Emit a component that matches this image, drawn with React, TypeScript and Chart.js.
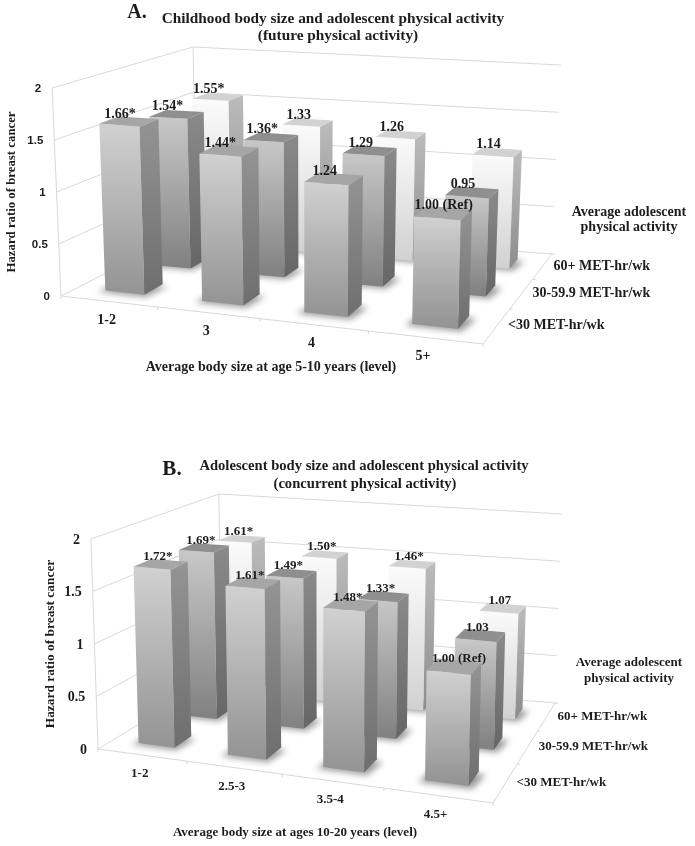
import React, { useEffect, useRef } from "react";
import { Chart, registerables } from "chart.js";

Chart.register(...registerables);

const seriesNames = ["<30 MET-hr/wk", "30-59.9 MET-hr/wk", "60+ MET-hr/wk"];
const yTicks = [0, 0.5, 1, 1.5, 2];

const categoriesA = ["1-2", "3", "4", "5+"];
const lowA = [1.66, 1.44, 1.24, 1.0];
const midA = [1.54, 1.36, 1.29, 0.95];
const highA = [1.55, 1.33, 1.26, 1.14];
const lowLabelsA = ["1.66*", "1.44*", "1.24", "1.00 (Ref)"];
const midLabelsA = ["1.54*", "1.36*", "1.29", "0.95"];
const highLabelsA = ["1.55*", "1.33", "1.26", "1.14"];

const categoriesB = ["1-2", "2.5-3", "3.5-4", "4.5+"];
const lowB = [1.72, 1.61, 1.48, 1.0];
const midB = [1.69, 1.49, 1.33, 1.03];
const highB = [1.61, 1.5, 1.46, 1.07];
const lowLabelsB = ["1.72*", "1.61*", "1.48*", "1.00 (Ref)"];
const midLabelsB = ["1.69*", "1.49*", "1.33*", "1.03"];
const highLabelsB = ["1.61*", "1.50*", "1.46*", "1.07"];

type Pt = [number, number];
const FONT = '"Liberation Serif"';
const TEXT = "#1c1c1c";
const GRID = "#d8d8d8";

const panelA = {
  top: 0,
  height: 423,
  letter: { text: "A.", x: 137, y: 13, size: 20 },
  titles: [
    { text: "Childhood body size and adolescent physical activity", x: 333, y: 19 },
    { text: "(future physical activity)", x: 338, y: 36 },
  ],
  titleSize: 15.3,
  font: 14,
  tickFont: 'bold 11.5px "Liberation Sans"',
  labelDx: -9,
  categories: categoriesA,
  series: [lowA, midA, highA],
  labels: [lowLabelsA, midLabelsA, highLabelsA],
  floor: [[61, 296], [483, 344], [552, 254], [197, 227]] as Pt[],
  heights: [200, 222, 189, 180],
  cornerLift: 8,
  tilt: { center: 308, slope: 0.036 },
  yTitle: { text: "Hazard ratio of breast cancer", x: 12, y: 192, size: 12.8 },
  xTitle: { text: "Average body size at age 5-10 years (level)", x: 271, y: 367 },
  legendTitle: { x: 629, y1: 212, y2: 227 },
};

const panelB = {
  top: 423,
  height: 423,
  letter: { text: "B.", x: 172, y: 470, size: 21 },
  titles: [
    { text: "Adolescent body size and adolescent physical activity", x: 364, y: 466 },
    { text: "(concurrent physical activity)", x: 365, y: 484 },
  ],
  titleSize: 14.6,
  font: 13,
  tickFont: 'bold 14px "Liberation Serif"',
  labelDx: -3,
  categories: categoriesB,
  series: [lowB, midB, highB],
  labels: [lowLabelsB, midLabelsB, highLabelsB],
  floor: [[98, 749], [493, 803], [555, 703], [222, 674]] as Pt[],
  heights: [205, 228, 189, 180],
  cornerLift: 5,
  tilt: { center: 325, slope: 0.031 },
  yTitle: { text: "Hazard ratio of breast cancer", x: 51, y: 644, size: 13.4 },
  xTitle: { text: "Average body size at ages 10-20 years (level)", x: 295, y: 833 },
  legendTitle: { x: 629, y1: 663, y2: 679 },
};

const rowStyles = [
  { front: ["#d1d1d1", "#959595"], side: ["#949494", "#6e6e6e"], cap: "#a6a6a6" },
  { front: ["#c8c8c8", "#828282"], side: ["#8a8a8a", "#666666"], cap: "#8f8f8f" },
  { front: ["#fbfbfb", "#d2d2d2"], side: ["#bcbcbc", "#8c8c8c"], cap: "#d2d2d2" },
];

function homography(q: Pt[]) {
  const [[x0, y0], [x1, y1], [x2, y2], [x3, y3]] = q;
  const dx1 = x1 - x2, dx2 = x3 - x2, sx = x0 - x1 + x2 - x3;
  const dy1 = y1 - y2, dy2 = y3 - y2, sy = y0 - y1 + y2 - y3;
  const det = dx1 * dy2 - dx2 * dy1;
  const g = (sx * dy2 - dx2 * sy) / det;
  const h = (dx1 * sy - sx * dy1) / det;
  const a = x1 - x0 + g * x1, b = x3 - x0 + h * x3;
  const d = y1 - y0 + g * y1, e = y3 - y0 + h * y3;
  return (u: number, v: number): Pt => {
    const w = g * u + h * v + 1;
    return [(a * u + b * v + x0) / w, (d * u + e * v + y0) / w];
  };
}

const WARP = 0.07;

function makePlugin(panel: typeof panelA) {
  const off = panel.top;
  const floorH = homography(panel.floor.map(([x, y]) => [x, y - off] as Pt));
  const [hFL, hFR, hBR, hBL] = panel.heights;
  const P = (u0: number, v: number, z: number): Pt => {
    const u = u0 + WARP * u0 * (1 - u0);
    const f = floorH(u, v);
    const h =
      (hFL * (1 - u) + hFR * u) * (1 - v) +
      (hBL * (1 - u) + hBR * u) * v +
      panel.cornerLift * Math.pow((1 - u) * (1 - v), 8);
    const dx = (f[0] - panel.tilt.center) * panel.tilt.slope;
    return [f[0] + dx * z, f[1] - h * z];
  };
  const poly = (ctx: CanvasRenderingContext2D, pts: Pt[]) => {
    ctx.beginPath();
    pts.forEach((p, i) => (i ? ctx.lineTo(p[0], p[1]) : ctx.moveTo(p[0], p[1])));
    ctx.closePath();
  };
  const line = (ctx: CanvasRenderingContext2D, a: Pt, b: Pt) => {
    ctx.beginPath();
    ctx.moveTo(a[0], a[1]);
    ctx.lineTo(b[0], b[1]);
    ctx.stroke();
  };
  const textF = (ctx: CanvasRenderingContext2D, s: string, x: number, y: number, font: string, align: CanvasTextAlign = "center") => {
    ctx.font = font;
    ctx.fillStyle = TEXT;
    ctx.textAlign = align;
    ctx.textBaseline = "middle";
    ctx.fillText(s, x, y);
  };
  const text = (ctx: CanvasRenderingContext2D, s: string, x: number, y: number, size: number, align: CanvasTextAlign = "center") =>
    textF(ctx, s, x, y, `bold ${size}px ${FONT}`, align);

  return {
    id: "bars3d",
    afterDatasetsDraw(chart: any) {
      const ctx: CanvasRenderingContext2D = chart.ctx;
      const { chartArea: area } = chart;
      const yScale = chart.scales.y;
      const xScale = chart.scales.x;
      const zOf = (value: number) => (area.bottom - yScale.getPixelForValue(value)) / area.height;
      const uOf = (px: number) => (px - area.left) / area.width;
      const nCat = panel.categories.length;
      const nRow = panel.series.length;
      const fs = panel.font;

      ctx.save();
      // walls
      ctx.strokeStyle = GRID;
      ctx.lineWidth = 1;
      yTicks.forEach((t) => {
        const z = zOf(t);
        line(ctx, P(0, 0, z), P(0, 1, z));
        line(ctx, P(0, 1, z), P(1, 1, z));
      });
      line(ctx, P(0, 0, 0), P(0, 0, 1));
      line(ctx, P(0, 1, 0), P(0, 1, 1));
      // floor edges
      line(ctx, P(0, 0, 0), P(1, 0, 0));
      line(ctx, P(1, 0, 0), P(1, 1, 0));
      for (let i = 0; i <= nCat; i++) {
        const a = P(i / nCat, 0, 0);
        line(ctx, a, [a[0], a[1] + 3]);
      }
      for (let r = 1; r <= nRow; r++) {
        const a = P(1, r / nRow, 0);
        line(ctx, a, [a[0] + 3, a[1]]);
      }

      // floor shadows
      ctx.save();
      ctx.filter = "blur(3px)";
      ctx.fillStyle = "#9a9a9a";
      for (let r = nRow - 1; r >= 0; r--) {
        chart.getDatasetMeta(r).data.forEach((el: any) => {
          const u0 = uOf(el.x - el.width / 2), u1 = uOf(el.x + el.width / 2);
          const v0 = (r + 0.31) / nRow, v1 = (r + 0.69) / nRow;
          poly(ctx, [P(u0 - 0.012, v0 - 0.02, 0), P(u1 + 0.012, v0 - 0.02, 0), P(u1 + 0.02, v1 - 0.02, 0), P(u0, v1, 0)]);
          ctx.fill();
        });
      }
      ctx.restore();

      // bars, back row first, left to right
      for (let r = nRow - 1; r >= 0; r--) {
        const st = rowStyles[r];
        chart.getDatasetMeta(r).data.forEach((el: any) => {
          const u0 = uOf(el.x - el.width / 2), u1 = uOf(el.x + el.width / 2);
          const v0 = (r + 0.31) / nRow, v1 = (r + 0.69) / nRow;
          const z = (area.bottom - el.y) / area.height;
          const fl = P(u0, v0, 0), fr = P(u1, v0, 0), br = P(u1, v1, 0);
          const tl = P(u0, v0, z), tr = P(u1, v0, z), tb = P(u1, v1, z), tbl = P(u0, v1, z);
          const gf = ctx.createLinearGradient(0, tl[1], 0, fl[1]);
          gf.addColorStop(0, st.front[0]);
          gf.addColorStop(1, st.front[1]);
          ctx.fillStyle = gf;
          poly(ctx, [tl, tr, fr, fl]);
          ctx.fill();
          const gs = ctx.createLinearGradient(0, tb[1], 0, fr[1]);
          gs.addColorStop(0, st.side[0]);
          gs.addColorStop(1, st.side[1]);
          ctx.fillStyle = gs;
          poly(ctx, [tr, tb, br, fr]);
          ctx.fill();
          ctx.fillStyle = st.cap;
          poly(ctx, [tl, tr, tb, tbl]);
          ctx.fill();
        });
      }

      // value labels
      for (let r = nRow - 1; r >= 0; r--) {
        chart.getDatasetMeta(r).data.forEach((el: any, i: number) => {
          const u = uOf(el.x);
          const v = (r + 0.5) / nRow;
          const z = (area.bottom - el.y) / area.height;
          const c = P(u, v, z);
          const s = panel.labels[r][i];
          ctx.font = `bold ${fs}px ${FONT}`;
          const extra = s.length > 6 ? 0.33 * (ctx.measureText(s).width - 30) : 0;
          text(ctx, s, c[0] + panel.labelDx + extra, c[1] - 7.5, fs);
        });
      }

      // y tick labels
      yTicks.forEach((t) => {
        const p = P(0, 0, zOf(t));
        textF(ctx, String(t), p[0] - 11, p[1] + 1, panel.tickFont, "right");
      });
      // category labels
      panel.categories.forEach((c, i) => {
        const p = P(uOf(xScale.getPixelForValue(i)), 0, 0);
        text(ctx, c, p[0] - 2, p[1] + 19, fs);
      });
      // series labels
      seriesNames.forEach((s, r) => {
        const p = P(1, (r + 0.5) / nRow, 0);
        text(ctx, s, p[0] + 11, p[1], fs, "left");
      });

      // titles
      panel.titles.forEach((t) => text(ctx, t.text, t.x, t.y - off, panel.titleSize));
      text(ctx, panel.letter.text, panel.letter.x, panel.letter.y - off, panel.letter.size);
      text(ctx, panel.xTitle.text, panel.xTitle.x, panel.xTitle.y - off, fs);
      text(ctx, "Average adolescent", panel.legendTitle.x, panel.legendTitle.y1 - off, fs);
      text(ctx, "physical activity", panel.legendTitle.x, panel.legendTitle.y2 - off, fs);
      ctx.save();
      ctx.translate(panel.yTitle.x, panel.yTitle.y - off);
      ctx.rotate(-Math.PI / 2);
      text(ctx, panel.yTitle.text, 0, 0, panel.yTitle.size);
      ctx.restore();
      ctx.restore();
    },
  };
}

function Panel({ panel }: { panel: typeof panelA }) {
  const ref = useRef<HTMLCanvasElement>(null);
  useEffect(() => {
    const canvas = ref.current!;
    const [fl, fr] = panel.floor;
    const chart = new Chart(canvas, {
      type: "bar",
      data: {
        labels: panel.categories,
        datasets: panel.series.map((values, i) => ({
          label: seriesNames[i],
          data: values,
          backgroundColor: "rgba(0,0,0,0)",
          grouped: false,
          barPercentage: 0.41,
          categoryPercentage: 1,
        })),
      },
      options: {
        animation: false,
        responsive: false,
        layout: {
          padding: {
            left: fl[0],
            right: 695 - fr[0],
            top: fl[1] - panel.top - panel.heights[0],
            bottom: panel.height - (fl[1] - panel.top),
          },
        },
        plugins: { legend: { display: false }, tooltip: { enabled: false } },
        scales: {
          x: { display: false },
          y: { display: false, min: 0, max: 2 },
        },
      } as any,
      plugins: [makePlugin(panel)],
    });
    return () => chart.destroy();
  }, [panel]);
  return (
    <canvas
      ref={ref}
      width={695}
      height={panel.height}
      style={{ position: "absolute", left: 0, top: panel.top, width: 695, height: panel.height, filter: "blur(0.45px)" }}
    />
  );
}

export default function App() {
  return (
    <div style={{ position: "absolute", left: 0, top: 0, width: 695, height: 846, background: "#fff", overflow: "hidden" }}>
      <Panel panel={panelA} />
      <Panel panel={panelB} />
    </div>
  );
}
